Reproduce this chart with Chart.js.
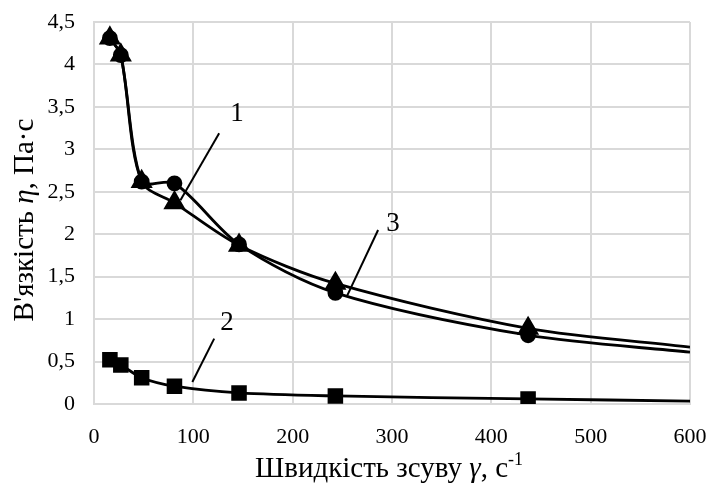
<!DOCTYPE html>
<html>
<head>
<meta charset="utf-8">
<script src="https://cdn.jsdelivr.net/npm/chart.js@4/dist/chart.umd.min.js"></script>
<style>
  html, body { margin: 0; padding: 0; background: #fff; }
  #wrap { width: 710px; height: 486px; }
</style>
</head>
<body>
<div id="wrap"><canvas id="chart" width="710" height="486"></canvas></div>
<script>
// shear rates, s^-1 (last value is where the drawn curves stop, no marker there)
const shearRate = [16, 27, 48, 81, 146, 243, 437, 600];
const visc1 = [4.31, 4.11, 2.62, 2.60, 1.88, 1.31, 0.81, 0.61];  // circles
const visc2 = [0.52, 0.46, 0.31, 0.21, 0.13, 0.095, 0.06, 0.035]; // squares
const visc3 = [4.31, 4.11, 2.62, 2.37, 1.87, 1.42, 0.89, 0.67];  // triangles

const xTicks = [0, 100, 200, 300, 400, 500, 600];
const yTicks = [0, 0.5, 1, 1.5, 2, 2.5, 3, 3.5, 4, 4.5];

// leader lines with curve numbers, in data units
const leaderText = ['1', '2', '3'];
const leaderFrom = [[126, 3.19], [121, 0.77], [286, 2.05]];
const leaderTo = [[87, 2.40], [99, 0.26], [255, 1.28]];
const leaderLabelAt = [[144, 3.42], [134, 0.95], [301, 2.12]];

const SERIF = '"Liberation Serif", "Times New Roman", serif';

function pts(ys) {
  return shearRate.map((x, i) => ({ x: x, y: ys[i] }));
}
// hide the marker on the end-of-curve point
const radii = r => shearRate.map((x, i) => i === shearRate.length - 1 ? 0 : r);

function drawRich(ctx, parts, size) {
  let total = 0;
  const fontOf = p => (p.it ? 'italic ' : '') + (p.sup ? Math.round(size * 0.62) : size) + 'px ' + SERIF;
  const widths = parts.map(p => {
    ctx.font = fontOf(p);
    const w = ctx.measureText(p.t).width;
    total += w;
    return w;
  });
  let x = -total / 2;
  parts.forEach((p, i) => {
    ctx.font = fontOf(p);
    ctx.fillText(p.t, x, p.sup ? -size * 0.42 : 0);
    x += widths[i];
  });
}

const extras = {
  id: 'extras',
  afterDatasetsDraw(chart) {
    const ctx = chart.ctx;
    const xs = chart.scales.x, ys = chart.scales.y;
    ctx.save();
    ctx.strokeStyle = '#000';
    ctx.lineWidth = 2;
    ctx.fillStyle = '#000';
    ctx.textAlign = 'center';
    ctx.textBaseline = 'middle';
    ctx.font = '27px ' + SERIF;
    leaderText.forEach((t, i) => {
      ctx.beginPath();
      ctx.moveTo(xs.getPixelForValue(leaderFrom[i][0]), ys.getPixelForValue(leaderFrom[i][1]));
      ctx.lineTo(xs.getPixelForValue(leaderTo[i][0]), ys.getPixelForValue(leaderTo[i][1]));
      ctx.stroke();
      ctx.fillText(t, xs.getPixelForValue(leaderLabelAt[i][0]), ys.getPixelForValue(leaderLabelAt[i][1]));
    });
    ctx.restore();
  },
  afterDraw(chart) {
    const ctx = chart.ctx;
    const a = chart.chartArea;
    ctx.save();
    ctx.fillStyle = '#000';
    ctx.textBaseline = 'alphabetic';
    ctx.textAlign = 'left';
    // x title
    ctx.save();
    ctx.translate((a.left + a.right) / 2 - 3, 477);
    drawRich(ctx, [
      { t: 'Швидкість зсуву ' }, { t: 'γ', it: true }, { t: ', с' }, { t: '-1', sup: true }
    ], 29);
    ctx.restore();
    // y title
    ctx.save();
    ctx.translate(33, (a.top + a.bottom) / 2 + 7);
    ctx.rotate(-Math.PI / 2);
    drawRich(ctx, [
      { t: 'В\'язкість ' }, { t: 'η', it: true }, { t: ', Па·с' }
    ], 29);
    ctx.restore();
    ctx.restore();
  }
};

const lineStyle = {
  borderColor: '#000',
  backgroundColor: '#000',
  pointBorderColor: '#000',
  pointBackgroundColor: '#000',
  borderWidth: 2.8,
  tension: 0.3,
  showLine: true,
  fill: false
};

new Chart(document.getElementById('chart'), {
  type: 'scatter',
  data: {
    datasets: [
      Object.assign({ label: '3', data: pts(visc3), pointStyle: 'triangle', pointRadius: radii(10), order: 0 }, lineStyle),
      Object.assign({ label: '1', data: pts(visc1), pointStyle: 'circle', pointRadius: radii(6.5), order: 1 }, lineStyle),
      Object.assign({ label: '2', data: pts(visc2), pointStyle: 'rect', pointRadius: radii(9), order: 2 }, lineStyle)
    ]
  },
  options: {
    responsive: false,
    animation: false,
    layout: { padding: { top: 22, right: 20, left: 0, bottom: 0 } },
    plugins: { legend: { display: false }, tooltip: { enabled: false } },
    scales: {
      x: {
        type: 'linear',
        min: 0, max: 600,
        afterBuildTicks: s => { s.ticks = xTicks.map(v => ({ value: v })); },
        afterFit: s => { s.height = 82; s.paddingLeft = 0; s.paddingRight = 0; },
        grid: { color: '#d9d9d9', lineWidth: 2, drawTicks: false },
        border: { color: '#d9d9d9', width: 2 },
        ticks: { color: '#000', padding: 20, maxRotation: 0, font: { family: SERIF, size: 22 } }
      },
      y: {
        type: 'linear',
        min: 0, max: 4.5,
        afterBuildTicks: s => { s.ticks = yTicks.map(v => ({ value: v })); },
        afterFit: s => { s.width = 94; s.paddingTop = 0; s.paddingBottom = 0; },
        grid: { color: '#d9d9d9', lineWidth: 2, drawTicks: false },
        border: { color: '#d9d9d9', width: 2 },
        ticks: {
          color: '#000', padding: 19, font: { family: SERIF, size: 22 },
          callback: v => String(v).replace('.', ',')
        }
      }
    }
  },
  plugins: [extras]
});
</script>
</body>
</html>
